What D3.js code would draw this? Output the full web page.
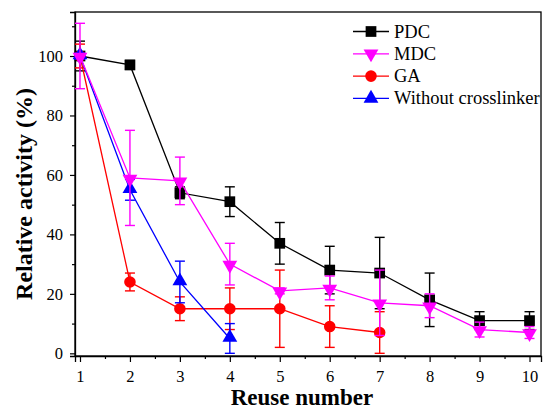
<!DOCTYPE html>
<html>
<head>
<meta charset="utf-8">
<script src="https://cdn.jsdelivr.net/npm/d3@7"></script>
<style>
	body { margin: 0; background: #fff; }
	svg text { font-family: "Liberation Serif", "Times New Roman", serif; }
</style>
</head>
<body>
<svg id="chart" width="544" height="409"></svg>
<script>
const reuse = [1, 2, 3, 4, 5, 6, 7, 8, 9, 10];
const pdc = [100, 97, 54, 51, 37, 28, 27, 18, 11, 11];
const pdcErr = [5, 1.5, 2, 5, 7, 8, 12, 9, 3, 3];
const mdc = [100, 59, 58, 30, 21, 22, 17, 16, 8, 7];
const mdcErr = [11, 16, 8, 7, 1, 4, 11, 4, 2.5, 2];
const ga = [100, 24, 15, 15, 15, 9, 7];
const gaErr = [4, 3, 4, 7, 13, 7, 7];
const noLink = [100, 55, 24, 5];
const noLinkErr = [1, 3.5, 7, 5];
const xTicks = [1, 2, 3, 4, 5, 6, 7, 8, 9, 10];
const yTicks = [0, 20, 40, 60, 80, 100];

const series = [
	{ name: "PDC", color: "#000000", shape: "square", values: pdc, err: pdcErr, order: 0 },
	{ name: "MDC", color: "#ff00ff", shape: "down", values: mdc, err: mdcErr, order: 3 },
	{ name: "GA", color: "#ff0000", shape: "circle", values: ga, err: gaErr, order: 1 },
	{ name: "Without crosslinker", color: "#0000ff", shape: "up", values: noLink, err: noLinkErr, order: 2 }
];

const svg = d3.select("#chart");
const margin = { left: 75, right: 3, top: 12, bottom: 53 };
const width = 544 - margin.left - margin.right;
const height = 409 - margin.top - margin.bottom;

const x = d3.scaleLinear().domain([0.9, 10.23]).range([0, width]);
const y = d3.scaleLinear().domain([-0.9, 114.8]).range([height, 0]);

const g = svg.append("g").attr("transform", `translate(${margin.left},${margin.top})`);

// frame
g.append("rect")
	.attr("width", width).attr("height", height)
	.attr("fill", "none").attr("stroke", "#000").attr("stroke-width", 1.3);

// axes, Origin style: outward ticks with minors
g.append("g").attr("transform", `translate(0,${height})`)
	.call(d3.axisBottom(x).tickValues(xTicks).tickFormat(d3.format("d")).tickSize(6).tickPadding(8));
g.append("g").attr("transform", `translate(0,${height})`)
	.call(d3.axisBottom(x).tickValues(d3.range(1.5, 10.5, 1)).tickFormat("").tickSize(3))
	.select(".domain").remove();

g.append("g")
	.call(d3.axisLeft(y).tickValues(yTicks).tickSize(5).tickPadding(7));
g.append("g")
	.call(d3.axisLeft(y).tickValues(d3.range(10, 120, 20)).tickFormat("").tickSize(3))
	.select(".domain").remove();

g.selectAll(".domain").attr("stroke-width", 1.3);
g.selectAll(".tick line").attr("stroke-width", 1.2);
g.selectAll(".tick text").attr("fill", "#000").style("font-size", "16.5px");

// axis titles
svg.append("text")
	.attr("x", 302).attr("y", 405)
	.attr("text-anchor", "middle")
	.style("font-size", "23px").style("font-weight", "bold")
	.text("Reuse number");
svg.append("text")
	.attr("transform", "translate(32,194) rotate(-90)")
	.attr("text-anchor", "middle")
	.style("font-size", "24px").style("font-weight", "bold")
	.text("Relative activity (%)");

function symbolFor(shape) {
	if (shape === "square") return d3.symbol().type(d3.symbolSquare).size(115);
	if (shape === "circle") return d3.symbol().type(d3.symbolCircle).size(105);
	return d3.symbol().type(d3.symbolTriangle).size(95);
}

const line = d3.line().x((d, i) => x(reuse[i])).y(d => y(d));

const drawOrder = series.slice().sort((a, b) => a.order - b.order);
drawOrder.forEach(s => {
	const sg = g.append("g");
	sg.append("path")
		.datum(s.values)
		.attr("d", line)
		.attr("fill", "none")
		.attr("stroke", s.color)
		.attr("stroke-width", 1.3);

	const eb = sg.selectAll(".err").data(s.values).enter().append("g")
		.attr("stroke", s.color).attr("stroke-width", 1.4);
	eb.append("line")
		.attr("x1", (d, i) => x(reuse[i])).attr("x2", (d, i) => x(reuse[i]))
		.attr("y1", (d, i) => y(d + s.err[i])).attr("y2", (d, i) => y(Math.max(0, d - s.err[i])));
	[1, -1].forEach(sign => {
		eb.append("line")
			.attr("x1", (d, i) => x(reuse[i]) - 5).attr("x2", (d, i) => x(reuse[i]) + 5)
			.attr("y1", (d, i) => y(Math.max(0, d + sign * s.err[i])))
			.attr("y2", (d, i) => y(Math.max(0, d + sign * s.err[i])));
	});

	sg.selectAll(".mark").data(s.values).enter().append("path")
		.attr("d", symbolFor(s.shape))
		.attr("transform", (d, i) => `translate(${x(reuse[i])},${y(d) + (s.shape === "down" ? 1 : s.shape === "up" ? -1 : 0)}) rotate(${s.shape === "down" ? 180 : 0})`)
		.attr("fill", s.color);
});

// legend
const legend = svg.append("g").attr("transform", "translate(353,31.5)");
series.forEach((s, i) => {
	const row = legend.append("g").attr("transform", `translate(0,${i * 22.3})`);
	row.append("line").attr("x1", 0).attr("x2", 36).attr("y1", 0).attr("y2", 0)
		.attr("stroke", s.color).attr("stroke-width", 1.3);
	row.append("path").attr("d", symbolFor(s.shape))
		.attr("transform", `translate(18,0) rotate(${s.shape === "down" ? 180 : 0})`)
		.attr("fill", s.color);
	row.append("text").attr("x", 41).attr("y", 6).style("font-size", "18.5px").text(s.name);
});
</script>
</body>
</html>
